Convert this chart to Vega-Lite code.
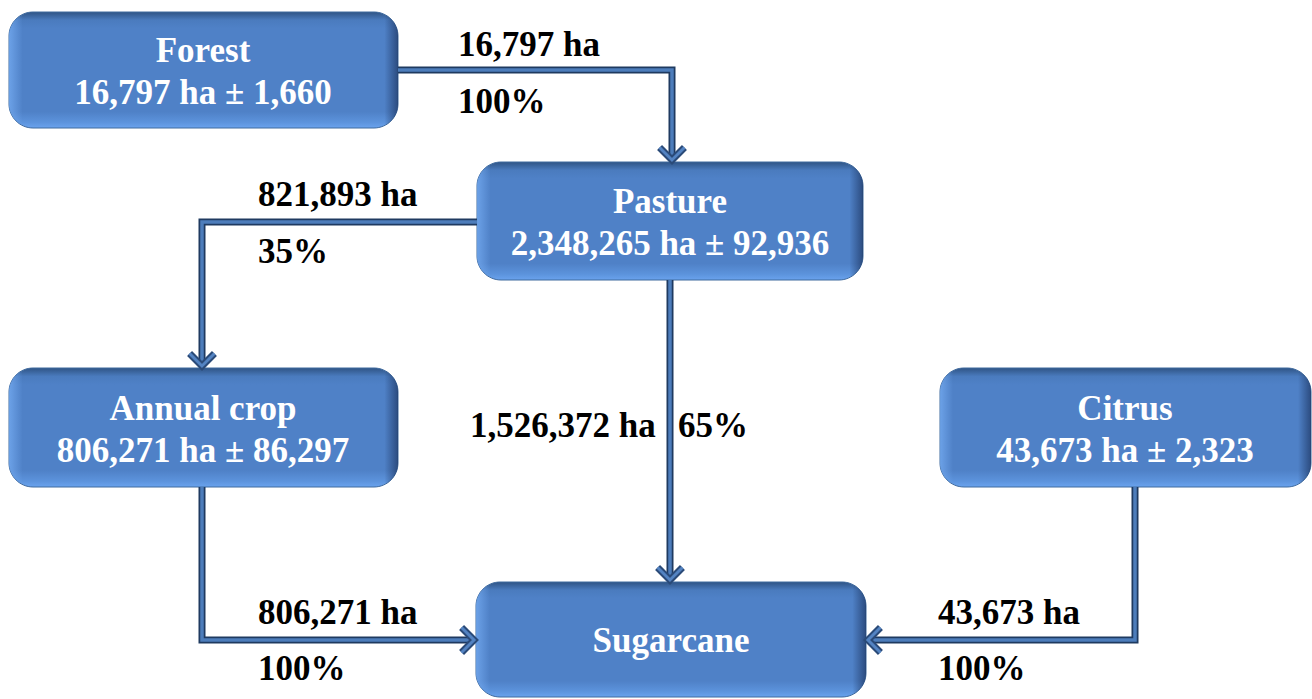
{
  "$schema": "https://vega.github.io/schema/vega-lite/v6.json",
  "width": 1312,
  "height": 699,
  "autosize": {"type": "fit", "contains": "padding"},
  "padding": 0,
  "background": "white",
  "config": {"view": {"stroke": null}},
  "datasets": {
    "boxes": [
      {"name": "Forest", "x1": 9, "x2": 398, "y1": 12, "y2": 128},
      {"name": "Pasture", "x1": 477, "x2": 863, "y1": 162, "y2": 280},
      {"name": "Annual crop", "x1": 9, "x2": 398, "y1": 368, "y2": 487},
      {"name": "Citrus", "x1": 940, "x2": 1311, "y1": 368, "y2": 487},
      {"name": "Sugarcane", "x1": 476, "x2": 866, "y1": 582, "y2": 697}
    ],
    "paths": [
      {"flow": "Forest-Pasture", "i": 1, "x": 398, "y": 70},
      {"flow": "Forest-Pasture", "i": 2, "x": 672, "y": 70},
      {"flow": "Forest-Pasture", "i": 3, "x": 672, "y": 158},
      {"flow": "Pasture-Annual", "i": 1, "x": 477, "y": 222},
      {"flow": "Pasture-Annual", "i": 2, "x": 202, "y": 222},
      {"flow": "Pasture-Annual", "i": 3, "x": 202, "y": 364},
      {"flow": "Pasture-Sugarcane", "i": 1, "x": 670, "y": 280},
      {"flow": "Pasture-Sugarcane", "i": 2, "x": 670, "y": 578},
      {"flow": "Annual-Sugarcane", "i": 1, "x": 202, "y": 487},
      {"flow": "Annual-Sugarcane", "i": 2, "x": 202, "y": 640},
      {"flow": "Annual-Sugarcane", "i": 3, "x": 472, "y": 640},
      {"flow": "Citrus-Sugarcane", "i": 1, "x": 1135, "y": 487},
      {"flow": "Citrus-Sugarcane", "i": 2, "x": 1135, "y": 640},
      {"flow": "Citrus-Sugarcane", "i": 3, "x": 870, "y": 640}
    ],
    "heads": [
      {"flow": "Forest-Pasture", "dir": "down", "x": 672, "y": 160},
      {"flow": "Pasture-Annual", "dir": "down", "x": 202, "y": 366},
      {"flow": "Pasture-Sugarcane", "dir": "down", "x": 670, "y": 580},
      {"flow": "Annual-Sugarcane", "dir": "right", "x": 474, "y": 640},
      {"flow": "Citrus-Sugarcane", "dir": "left", "x": 868, "y": 640}
    ],
    "boxText": [
      {"x": 203, "y": 62, "text": "Forest"},
      {"x": 203, "y": 104, "text": "16,797 ha ± 1,660"},
      {"x": 670, "y": 213, "text": "Pasture"},
      {"x": 670, "y": 255, "text": "2,348,265 ha ± 92,936"},
      {"x": 203, "y": 420, "text": "Annual crop"},
      {"x": 203, "y": 462, "text": "806,271 ha ± 86,297"},
      {"x": 1125, "y": 420, "text": "Citrus"},
      {"x": 1125, "y": 462, "text": "43,673 ha ± 2,323"},
      {"x": 671, "y": 652, "text": "Sugarcane"}
    ],
    "flowText": [
      {"x": 458, "y": 56, "text": "16,797 ha"},
      {"x": 458, "y": 113, "text": "100%"},
      {"x": 258, "y": 206, "text": "821,893 ha"},
      {"x": 258, "y": 263, "text": "35%"},
      {"x": 470, "y": 437, "text": "1,526,372 ha"},
      {"x": 678, "y": 437, "text": "65%"},
      {"x": 258, "y": 624, "text": "806,271 ha"},
      {"x": 258, "y": 680, "text": "100%"},
      {"x": 938, "y": 624, "text": "43,673 ha"},
      {"x": 938, "y": 680, "text": "100%"}
    ]
  },
  "layer": [
    {
      "data": {"name": "boxes"},
      "mark": {
        "type": "rect",
        "cornerRadius": 24,
        "stroke": "#3F6A9E",
        "strokeWidth": 1,
        "fill": {
          "gradient": "linear", "x1": 0, "y1": 0, "x2": 0, "y2": 1,
          "stops": [
            {"offset": 0, "color": "#2F5485"},
            {"offset": 0.07, "color": "#4A7BBE"},
            {"offset": 0.14, "color": "#4F81C7"},
            {"offset": 0.86, "color": "#4F81C7"},
            {"offset": 0.95, "color": "#5C93DC"},
            {"offset": 1, "color": "#6AA3EE"}
          ]
        }
      },
      "encoding": {
        "x": {"field": "x1", "type": "quantitative", "scale": {"domain": [0, 1312], "nice": false, "zero": false}, "axis": null},
        "x2": {"field": "x2"},
        "y": {"field": "y1", "type": "quantitative", "scale": {"domain": [0, 699], "nice": false, "zero": false, "reverse": true}, "axis": null},
        "y2": {"field": "y2"}
      }
    },
    {
      "data": {"name": "boxes"},
      "mark": {
        "type": "rect",
        "cornerRadius": 24,
        "fill": {
          "gradient": "linear", "x1": 0, "y1": 0, "x2": 1, "y2": 0,
          "stops": [
            {"offset": 0, "color": "rgba(120,175,245,0.7)"},
            {"offset": 0.035, "color": "rgba(120,175,245,0)"},
            {"offset": 0.965, "color": "rgba(20,40,80,0)"},
            {"offset": 1, "color": "rgba(20,40,80,0.6)"}
          ]
        }
      },
      "encoding": {
        "x": {"field": "x1", "type": "quantitative"},
        "x2": {"field": "x2"},
        "y": {"field": "y1", "type": "quantitative"},
        "y2": {"field": "y2"}
      }
    },
    {
      "data": {"name": "paths"},
      "mark": {"type": "line", "color": "#1F3A60", "strokeWidth": 7, "strokeJoin": "miter", "strokeCap": "butt"},
      "encoding": {
        "x": {"field": "x", "type": "quantitative"},
        "y": {"field": "y", "type": "quantitative"},
        "detail": {"field": "flow"},
        "order": {"field": "i"}
      }
    },
    {
      "data": {"name": "paths"},
      "mark": {"type": "line", "color": "#4D7DBB", "strokeWidth": 3.5, "strokeJoin": "miter", "strokeCap": "butt"},
      "encoding": {
        "x": {"field": "x", "type": "quantitative"},
        "y": {"field": "y", "type": "quantitative"},
        "detail": {"field": "flow"},
        "order": {"field": "i"}
      }
    },
    {
      "data": {"name": "heads"},
      "mark": {"type": "point", "filled": false, "size": 620, "strokeWidth": 7, "color": "#2A4A78", "opacity": 1, "strokeJoin": "miter"},
      "encoding": {
        "x": {"field": "x", "type": "quantitative"},
        "y": {"field": "y", "type": "quantitative"},
        "shape": {
          "field": "dir", "type": "nominal", "legend": null,
          "scale": {"domain": ["down", "right", "left"], "range": ["M -1 -1 L 0 0 L 1 -1", "M -1 -1 L 0 0 L -1 1", "M 1 -1 L 0 0 L 1 1"]}
        }
      }
    },
    {
      "data": {"name": "heads"},
      "mark": {"type": "point", "filled": false, "size": 620, "strokeWidth": 3, "color": "#5383C2", "opacity": 1, "strokeJoin": "miter"},
      "encoding": {
        "x": {"field": "x", "type": "quantitative"},
        "y": {"field": "y", "type": "quantitative"},
        "shape": {"field": "dir", "type": "nominal", "legend": null}
      }
    },
    {
      "data": {"name": "boxText"},
      "mark": {"type": "text", "font": "Liberation Serif", "fontWeight": "bold", "fontSize": 35, "color": "white", "align": "center", "baseline": "alphabetic"},
      "encoding": {
        "x": {"field": "x", "type": "quantitative"},
        "y": {"field": "y", "type": "quantitative"},
        "text": {"field": "text"}
      }
    },
    {
      "data": {"name": "flowText"},
      "mark": {"type": "text", "font": "Liberation Serif", "fontWeight": "bold", "fontSize": 35, "color": "black", "align": "left", "baseline": "alphabetic"},
      "encoding": {
        "x": {"field": "x", "type": "quantitative"},
        "y": {"field": "y", "type": "quantitative"},
        "text": {"field": "text"}
      }
    }
  ]
}
